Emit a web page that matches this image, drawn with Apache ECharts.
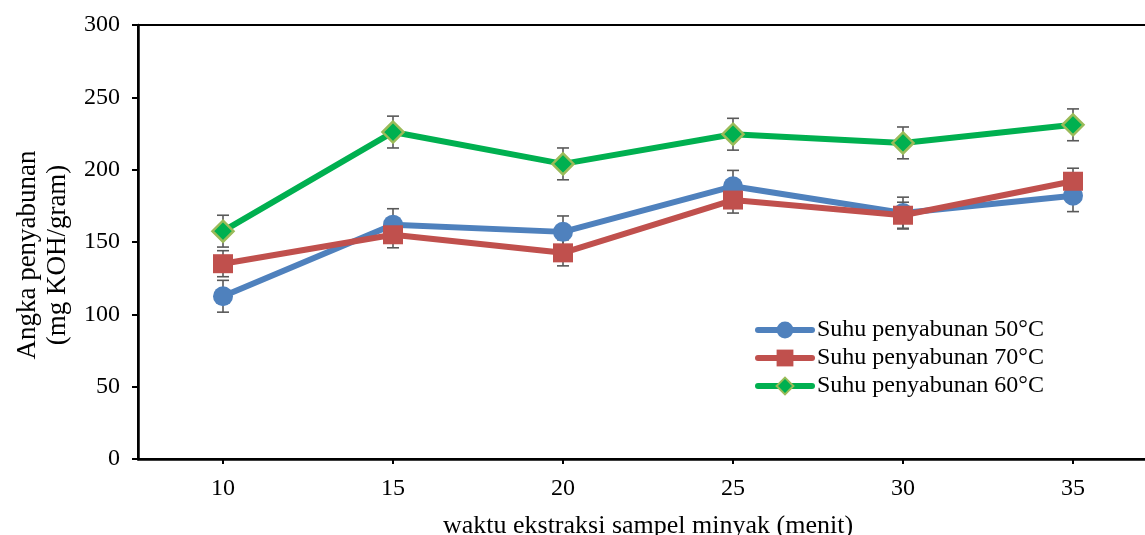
<!DOCTYPE html>
<html>
<head>
<meta charset="utf-8">
<script src="https://cdn.jsdelivr.net/npm/echarts@6/dist/echarts.min.js"></script>
<style>
  html, body { margin: 0; padding: 0; background: #fff; }
  #main { width: 1145px; height: 535px; }
</style>
</head>
<body>
<div id="main"></div>
<script>
// data
var waktu = [10, 15, 20, 25, 30, 35];
var xTicks = [10, 15, 20, 25, 30, 35];
var suhu50 = [112.5, 162, 157, 188.5, 170, 182];
var suhu70 = [135, 155, 142.5, 179, 168.5, 192];
var suhu60 = [157.5, 226, 204, 224.5, 218.5, 231];
var err50 = [11, 11, 11, 11, 11, 11];
var err70 = [9, 9, 9, 9, 9, 9];
var err60 = [11, 11, 11, 11, 11, 11];

var font = 'Liberation Serif';
var myChart = echarts.init(document.getElementById('main'));

function pairs(vals) {
    return waktu.map(function (x, i) { return [x, vals[i]]; });
}
function errData(vals, errs) {
    return waktu.map(function (x, i) { return [x, vals[i] - errs[i], vals[i] + errs[i]]; });
}
// error bars: vertical line with small caps
function errSeries(vals, errs) {
    return {
        type: 'custom',
        silent: true,
        z: 1,
        renderItem: function (params, api) {
            var lo = api.coord([api.value(0), api.value(1)]);
            var hi = api.coord([api.value(0), api.value(2)]);
            var w = 6;
            var st = { stroke: '#595959', lineWidth: 1.6 };
            return {
                type: 'group',
                children: [
                    { type: 'line', shape: { x1: lo[0], y1: lo[1], x2: hi[0], y2: hi[1] }, style: st },
                    { type: 'line', shape: { x1: lo[0] - w, y1: lo[1], x2: lo[0] + w, y2: lo[1] }, style: st },
                    { type: 'line', shape: { x1: hi[0] - w, y1: hi[1], x2: hi[0] + w, y2: hi[1] }, style: st }
                ]
            };
        },
        encode: { x: 0, y: [1, 2] },
        data: errData(vals, errs)
    };
}

var option = {
    animation: false,
    grid: {
        left: 138, top: 25, width: 1020, height: 434,
        outerBoundsMode: 'none',
        containLabel: false,
        show: true, borderColor: '#000', borderWidth: 2
    },
    legend: {
        orient: 'vertical',
        left: 755, top: 318,
        padding: 0,
        itemWidth: 54, itemHeight: 21, itemGap: 4,
        lineStyle: { width: 6, cap: 'round' },
        textStyle: { fontFamily: font, fontSize: 24, lineHeight: 24, color: '#000' },
        data: ['Suhu penyabunan 50°C', 'Suhu penyabunan 70°C', 'Suhu penyabunan 60°C']
    },
    xAxis: {
        type: 'value',
        min: 7.5, max: 37.5,
        name: 'waktu ekstraksi sampel minyak (menit)',
        nameLocation: 'middle',
        nameGap: 54,
        nameTextStyle: { fontFamily: font, fontSize: 26, color: '#000' },
        splitLine: { show: false },
        axisLine: { lineStyle: { color: '#000', width: 2.5 } },
        axisTick: { show: true, customValues: xTicks, length: 5, lineStyle: { color: '#000', width: 2 } },
        axisLabel: { customValues: xTicks, fontFamily: font, fontSize: 24, color: '#000', margin: 18 }
    },
    yAxis: {
        type: 'value',
        min: 0, max: 300, interval: 50,
        name: 'Angka penyabunan\n(mg KOH/gram)',
        nameLocation: 'middle',
        nameGap: 60,
        nameTextStyle: { fontFamily: font, fontSize: 27, color: '#000', lineHeight: 30, padding: [0, 26, 0, 0] },
        splitLine: { show: false },
        axisLine: { show: true, lineStyle: { color: '#000', width: 2.5 } },
        axisTick: { show: true, length: 6, lineStyle: { color: '#000', width: 2 } },
        axisLabel: { fontFamily: font, fontSize: 24, color: '#000', margin: 18 }
    },
    series: [
        errSeries(suhu50, err50),
        errSeries(suhu70, err70),
        errSeries(suhu60, err60),
        {
            name: 'Suhu penyabunan 50°C',
            type: 'line',
            z: 3,
            data: pairs(suhu50),
            symbol: 'circle', symbolSize: 20,
            lineStyle: { color: '#4F81BD', width: 6 },
            itemStyle: { color: '#4F81BD' }
        },
        {
            name: 'Suhu penyabunan 70°C',
            type: 'line',
            z: 4,
            data: pairs(suhu70),
            symbol: 'rect', symbolSize: [20, 19],
            lineStyle: { color: '#C0504D', width: 6 },
            itemStyle: { color: '#C0504D' }
        },
        {
            name: 'Suhu penyabunan 60°C',
            type: 'line',
            z: 5,
            data: pairs(suhu60),
            symbol: 'diamond', symbolSize: 21,
            lineStyle: { color: '#00B050', width: 6 },
            itemStyle: { color: '#00B050', borderColor: '#9BBB59', borderWidth: 2.5 }
        }
    ]
};

myChart.setOption(option);
</script>
</body>
</html>
